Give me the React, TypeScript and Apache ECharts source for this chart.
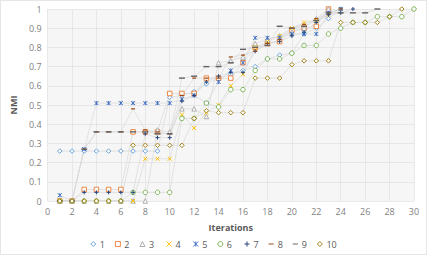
import React, { useEffect, useRef } from "react";
import * as echarts from "echarts";

// NMI per iteration for ten runs (iteration 1 onward)
const run1 = [0.26, 0.26, 0.26, 0.26, 0.26, 0.26, 0.26, 0.26, 0.26, 0.54, 0.55, 0.57, 0.61, 0.64, 0.66, 0.68, 0.7, 0.74, 0.76, 0.77, 0.87, 0.9, 0.95, 1];
const run2 = [0, 0, 0.06, 0.06, 0.06, 0.06, 0.36, 0.36, 0.36, 0.56, 0.56, 0.56, 0.64, 0.64, 0.64, 0.72, 0.8, 0.82, 0.83, 0.89, 0.9, 0.91, 1];
const run3 = [0, 0, 0, 0, 0, 0, 0, 0, 0.37, 0.36, 0.48, 0.48, 0.44, 0.72, 0.73, 0.75, 0.82, 0.84, 0.86, 0.88, 0.9, 0.95, 1];
const run4 = [0, 0, 0, 0, 0, 0, 0, 0.22, 0.22, 0.22, 0.45, 0.38, 0.46, 0.5, 0.6, 0.66, 0.8, 0.83, 0.86, 0.9, 0.93, 0.94, 0.97, 1];
const run5 = [0.03, 0, 0.27, 0.51, 0.51, 0.51, 0.51, 0.51, 0.51, 0.51, 0.53, 0.55, 0.51, 0.62, 0.68, 0.72, 0.85, 0.85, 0.85, 0.87, 0.87, 0.87, 0.98, 1];
const run6 = [0, 0, 0, 0, 0, 0, 0.045, 0.045, 0.045, 0.045, 0.43, 0.43, 0.51, 0.49, 0.58, 0.58, 0.68, 0.74, 0.74, 0.77, 0.81, 0.81, 0.87, 0.9, 0.93, 0.93, 0.96, 0.96, 0.96, 1];
const run7 = [0, 0, 0.045, 0.045, 0.045, 0.045, 0.045, 0.35, 0.33, 0.33, 0.52, 0.55, 0.62, 0.65, 0.67, 0.67, 0.78, 0.82, 0.83, 0.86, 0.88, 0.93, 0.97, 0.98, 1];
const run8 = [0, 0, 0.27, 0.36, 0.36, 0.36, 0.48, 0.37, 0.36, 0.35, 0.55, 0.64, 0.64, 0.64, 0.75, 0.76, 0.78, 0.82, 0.84, 0.9, 0.92, 0.95, 0.98, 1];
const run9 = [0, 0, 0.27, 0.36, 0.36, 0.36, 0.36, 0.36, 0.35, 0.35, 0.64, 0.65, 0.7, 0.7, 0.72, 0.79, 0.8, 0.81, 0.91, 0.9, 0.91, 0.94, 0.98, 0.98, 0.98, 0.98, 1];
const run10 = [0, 0, 0, 0, 0, 0, 0.29, 0.29, 0.29, 0.29, 0.29, 0.43, 0.47, 0.46, 0.46, 0.46, 0.64, 0.64, 0.64, 0.71, 0.73, 0.73, 0.73, 0.93, 0.93, 0.93, 0.93, 0.96, 1];

const runNames = ["1", "2", "3", "4", "5", "6", "7", "8", "9", "10"];
const runValues = [run1, run2, run3, run4, run5, run6, run7, run8, run9, run10];
const runColors = ["#5B9BD5", "#ED7D31", "#A5A5A5", "#FFC000", "#4472C4", "#70AD47", "#264478", "#9E480E", "#636363", "#997300"];

const X_SYMBOL = "path://M0,0L10,10M10,0L0,10";
const STAR_SYMBOL = "path://M0,0L10,10M10,0L0,10M5,0L5,10";
const PLUS_SYMBOL = "path://M5,0L5,10M0,5L10,5";
const DASH = "path://M0,0L10,0L10,2L0,2Z";

const markerFor = (i: number, color: string) => {
  const outline = { color: "#ffffff", borderColor: color, borderWidth: 0.9 };
  const stroke = { color: "none", borderColor: color, borderWidth: 1 };
  const solid = { color, borderWidth: 0 };
  switch (i) {
    case 0: return { symbol: "diamond", symbolSize: 4.5, itemStyle: outline };
    case 1: return { symbol: "rect", symbolSize: 4.5, itemStyle: outline };
    case 2: return { symbol: "triangle", symbolSize: 4.5, itemStyle: outline };
    case 3: return { symbol: X_SYMBOL, symbolSize: 4, itemStyle: stroke };
    case 4: return { symbol: STAR_SYMBOL, symbolSize: 4, itemStyle: stroke };
    case 5: return { symbol: "circle", symbolSize: 4.5, itemStyle: outline };
    case 6: return { symbol: PLUS_SYMBOL, symbolSize: 4, itemStyle: stroke };
    case 7: return { symbol: DASH, symbolSize: [4, 1.2], itemStyle: solid };
    case 8: return { symbol: DASH, symbolSize: [6, 1.4], itemStyle: solid };
    default: return { symbol: "diamond", symbolSize: 4.5, itemStyle: outline };
  }
};

export default function App() {
  const ref = useRef<HTMLDivElement>(null);

  useEffect(() => {
    if (!ref.current) return;
    const chart = echarts.init(ref.current, null, { renderer: "svg" });
    const font = "'Open Sans', 'Liberation Sans', sans-serif";

    const markers = runColors.map((c, i) => markerFor(i, c));

    const series = runValues.map((vals, i) => ({
      name: runNames[i],
      type: "line",
      data: vals.map((v, k) => [k + 1, v]),
      showSymbol: true,
      lineStyle: { color: "#d9d9d9", width: 0.7 },
      ...markers[i],
      emphasis: { disabled: true },
    }));

    const legendData = runNames.map((n, i) => ({
      name: n,
      icon: markers[i].symbol,
      itemStyle: markers[i].itemStyle,
    }));

    chart.setOption({
      animation: false,
      backgroundColor: "#ffffff",
      textStyle: { fontFamily: font },
      grid: {
        left: 39,
        right: 12,
        top: 8,
        bottom: 53,
        show: true,
        backgroundColor: "#f6f6f6",
        borderWidth: 0,
      },
      xAxis: {
        type: "value",
        min: 0,
        max: 30,
        interval: 2,
        name: "Iterations",
        nameLocation: "middle",
        nameGap: 22,
        nameTextStyle: { color: "#595959", fontSize: 9, fontWeight: "bold" },
        axisLine: { show: false },
        axisTick: { show: false },
        axisLabel: { color: "#7f7f7f", fontSize: 9, margin: 6 },
        splitLine: { show: true, lineStyle: { color: "#e3e3e3", width: 0.8 } },
      },
      yAxis: {
        type: "value",
        min: 0,
        max: 1,
        interval: 0.1,
        name: "NMI",
        nameLocation: "middle",
        nameGap: 24,
        nameRotate: 90,
        nameTextStyle: { color: "#595959", fontSize: 9, fontWeight: "bold" },
        axisLine: { show: false },
        axisTick: { show: false },
        axisLabel: { color: "#7f7f7f", fontSize: 9, margin: 6 },
        splitLine: { show: true, lineStyle: { color: "#e3e3e3", width: 0.8 } },
      },
      legend: {
        top: 238,
        left: "center",
        padding: 0,
        itemWidth: 5,
        itemHeight: 5,
        itemGap: 10,
        textStyle: { color: "#595959", fontSize: 9, padding: [0, 0, 0, -1] },
        data: legendData,
      },
      series,
    });

    return () => chart.dispose();
  }, []);

  return (
    <div
      ref={ref}
      style={{
        position: "fixed",
        left: 0,
        top: 0,
        width: 427,
        height: 255,
        border: "1px solid #e6e6e6",
        boxSizing: "border-box",
      }}
    />
  );
}
